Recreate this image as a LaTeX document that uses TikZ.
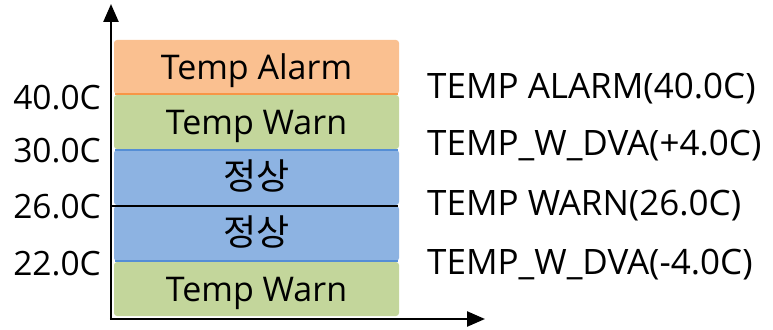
\documentclass[tikz,border=0pt]{standalone}
\usepackage{fontspec}
\setmainfont{Open Sans}
\newfontfamily\kr{Noto Sans CJK KR}
\usetikzlibrary{arrows.meta}
\definecolor{alarmfill}{HTML}{FAC090}
\definecolor{alarmline}{HTML}{F79646}
\definecolor{warnfill}{HTML}{C3D69B}
\definecolor{okfill}{HTML}{8DB3E2}
\definecolor{okline}{HTML}{558ED5}
\newcommand{\krtext}[1]{{\kr\fontsize{36}{40}\selectfont #1}}
\begin{document}
\begin{tikzpicture}[x=1pt,y=-1pt,
  band/.style={inner sep=0pt, minimum width=285pt, rounded corners=3pt,
    font=\fontsize{34}{38}\selectfont, text height=24pt, text depth=0pt},
  lab/.style={inner sep=0pt, font=\fontsize{33.5}{38}\selectfont},
  rlab/.style={inner sep=0pt, font=\fontsize{35}{40}\selectfont},
  axis/.style={line width=2.4pt, -{Triangle[length=18pt,width=15pt]}}]
\useasboundingbox (0,0) rectangle (773,329);
% bands
\node[band, fill=alarmfill, minimum height=54pt] (alarm) at (256.5,67) {Temp Alarm};
\node[band, fill=warnfill, minimum height=54pt] (warnA) at (256.5,122) {Temp Warn};
\node[band, fill=okfill, minimum height=55pt] (okA) at (256.5,177.5) {\krtext{정상}};
\node[band, fill=okfill, minimum height=55pt] (okB) at (256.5,233.5) {\krtext{정상}};
\node[band, fill=warnfill, minimum height=54pt] (warnB) at (256.5,289) {Temp Warn};
% separators
\draw[alarmline, line width=2pt] ([xshift=1pt]alarm.south west) -- ([xshift=-1pt]alarm.south east);
\draw[okline, line width=2pt] ([xshift=1pt]okA.north west) -- ([xshift=-1pt]okA.north east);
\draw[black, line width=2pt] ([xshift=-2pt,yshift=-0.5pt]okA.south west) -- ([xshift=-1pt,yshift=-0.5pt]okA.south east);
\draw[okline, line width=2pt] ([xshift=1pt]okB.south west) -- ([xshift=-1pt]okB.south east);
% axes
\coordinate (o) at (111,319);
\coordinate (ytip) at (111,4);
\coordinate (xtip) at (485,319);
\draw[axis] (o) -- (ytip);
\draw[axis] ([xshift=-1.2pt]o) -- (xtip);
% left labels
\node[lab, anchor=base east] (l40) at (101,109) {40.0C};
\node[lab, anchor=base east] (l30) at (101,162) {30.0C};
\node[lab, anchor=base east] (l26) at (101,218) {26.0C};
\node[lab, anchor=base east] (l22) at (101,275) {22.0C};
% right labels
\node[rlab, anchor=base west] (r1) at (427,98) {TEMP ALARM(40.0C)};
\node[rlab, anchor=base west] (r2) at (427,155) {TEMP\_W\_DVA(+4.0C)};
\node[rlab, anchor=base west] (r3) at (427,215) {TEMP WARN(26.0C)};
\node[rlab, anchor=base west] (r4) at (427,274) {TEMP\_W\_DVA(-4.0C)};
\end{tikzpicture}
\end{document}
